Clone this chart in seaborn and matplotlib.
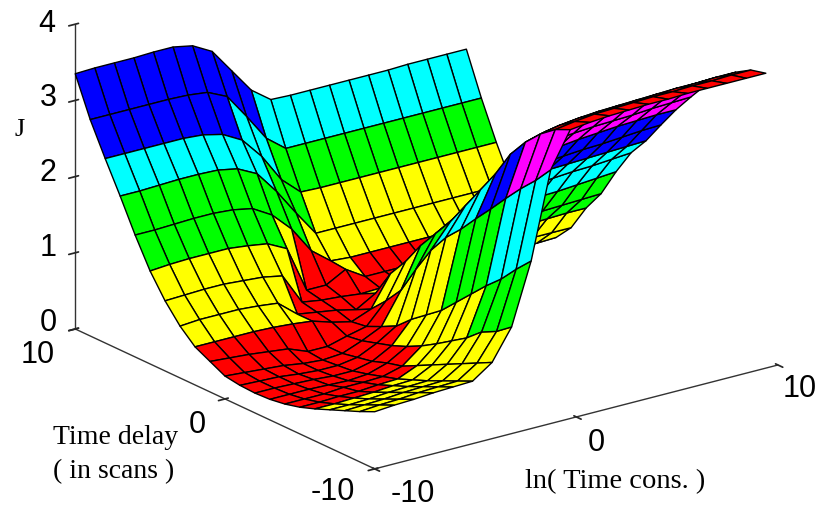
import numpy as np
import matplotlib
matplotlib.use("Agg")
import matplotlib.pyplot as plt
from matplotlib.colors import ListedColormap, BoundaryNorm
import seaborn as sns

ln_time_cons = [-10.0, -9.03, -8.06, -7.09, -6.12, -5.15, -4.18, -3.21, -2.24, -1.27, -0.3,
                0.67, 1.64, 2.61, 3.58, 4.55, 5.52, 6.49, 7.46, 8.43, 9.4]
time_delay = [-10, -9, -8, -7, -6, -5, -4, -3, -2, -1, 0, 1, 2, 3, 4, 5, 6, 7, 8, 9, 10]

j_rows = [
    [.75, .77, .78, .80, .81, .82, 1.00, 1.40, 2.20, 3.33, 3.79, 3.82, 3.84, 3.85, 3.86, 3.86, 3.87, 3.87, 3.87, 3.87, 3.87],
    [.66, .68, .69, .71, .72, .73, .90, 1.25, 2.00, 3.10, 3.70, 3.74, 3.77, 3.78, 3.79, 3.80, 3.80, 3.81, 3.81, 3.82, 3.82],
    [.58, .59, .60, .62, .63, .64, .80, 1.15, 1.78, 2.90, 3.55, 3.60, 3.63, 3.65, 3.66, 3.67, 3.68, 3.69, 3.69, 3.70, 3.70],
    [.50, .50, .51, .53, .54, .55, .70, .98, 1.60, 2.68, 3.35, 3.42, 3.46, 3.48, 3.50, 3.51, 3.52, 3.53, 3.54, 3.55, 3.55],
    [.42, .42, .43, .44, .46, .47, .60, .85, 1.40, 2.45, 3.10, 3.20, 3.24, 3.27, 3.29, 3.30, 3.31, 3.32, 3.33, 3.34, 3.35],
    [.35, .35, .36, .36, .38, .39, .50, .72, 1.20, 2.23, 2.75, 2.90, 2.96, 3.00, 3.02, 3.04, 3.05, 3.06, 3.08, 3.09, 3.10],
    [.30, .30, .30, .32, .32, .33, .40, .60, 1.00, 2.00, 2.45, 2.60, 2.68, 2.72, 2.75, 2.78, 2.80, 2.82, 2.83, 2.84, 2.84],
    [.27, .27, .27, .26, .25, .27, .35, .50, .85, 1.80, 2.15, 2.30, 2.38, 2.42, 2.45, 2.47, 2.49, 2.50, 2.52, 2.54, 2.55],
    [.26, .26, .25, .24, .22, .22, .28, .42, .70, 1.54, 1.85, 2.05, 2.12, 2.16, 2.18, 2.20, 2.21, 2.22, 2.23, 2.24, 2.25],
    [.27, .26, .25, .22, .20, .20, .24, .36, .52, 1.20, 1.60, 1.75, 1.82, 1.86, 1.89, 1.91, 1.93, 1.95, 1.96, 1.98, 2.00],
    [.30, .28, .26, .24, .20, .18, .20, .30, .42, .83, 1.35, 1.45, 1.50, 1.53, 1.55, 1.57, 1.59, 1.60, 1.62, 1.64, 1.66],
    [.40, .38, .36, .33, .30, .20, .20, .27, .33, .60, 1.05, 1.10, 1.16, 1.18, 1.20, 1.22, 1.23, 1.25, 1.26, 1.27, 1.28],
    [.50, .50, .50, .50, .49, .47, .44, .36, .30, .40, .80, .90, .92, .94, .95, .96, .97, .98, .99, 1.00, 1.00],
    [.68, .70, .70, .70, .68, .65, .44, .40, .36, .30, .45, .60, .62, .63, .64, .64, .65, .65, .65, .65, .65],
    [.92, .93, .94, .94, .92, .90, .85, .44, .40, .38, .35, .36, .38, .40, .40, .41, .42, .42, .42, .42, .43],
    [1.22, 1.24, 1.25, 1.25, 1.25, 1.22, 1.18, 1.05, .44, .44, .58, .42, .42, .42, .42, .42, .42, .42, .42, .42, .42],
    [1.60, 1.60, 1.61, 1.62, 1.62, 1.60, 1.55, 1.40, 1.15, .80, .60, .58, .58, .58, .58, .58, .58, .58, .58, .58, .58],
    [2.02, 2.02, 2.03, 2.04, 2.04, 2.03, 1.98, 1.85, 1.55, 1.20, .87, .87, .87, .87, .87, .87, .87, .87, .87, .87, .87],
    [2.42, 2.42, 2.42, 2.42, 2.42, 2.40, 2.34, 2.20, 1.92, 1.55, 1.32, 1.31, 1.31, 1.31, 1.31, 1.31, 1.31, 1.31, 1.31, 1.31, 1.31],
    [2.84, 2.84, 2.84, 2.84, 2.84, 2.83, 2.80, 2.68, 2.35, 2.00, 1.80, 1.80, 1.80, 1.80, 1.80, 1.80, 1.80, 1.80, 1.80, 1.80, 1.80],
    [3.35, 3.36, 3.36, 3.36, 3.37, 3.37, 3.32, 3.18, 2.86, 2.54, 2.35, 2.34, 2.34, 2.34, 2.34, 2.34, 2.34, 2.35, 2.35, 2.35, 2.35],
]

band_edges = [0, .45, 1.14, 1.71, 2.29, 2.86, 3.43, 4.0]
band_colors = ["#ff0000", "#ffff00", "#00ff00", "#00ffff", "#0000ff", "#ff00ff", "#ff0000"]

x_ticks = [-10, 0, 10]
y_ticks = [-10, 0, 10]
z_ticks = [0, 1, 2, 3, 4]

sns.set_theme(style="white")
plt.rcParams['font.family'] = ['Liberation Sans', 'DejaVu Sans']
plt.rcParams['text.color'] = 'black'

X, Y = np.meshgrid(ln_time_cons, time_delay)
Z = np.array(j_rows)
cmap = ListedColormap(sns.color_palette(band_colors))
norm = BoundaryNorm(band_edges, cmap.N)

fig = plt.figure(figsize=(8.18, 5.08), dpi=100)
ax = fig.add_axes([0.0116, 0.011, 1.0, 1.18], projection='3d', proj_type='ortho')
ax.view_init(elev=20.3, azim=-126.6)
ax.set_box_aspect((1, 1, 0.647), zoom=1.265)
ax.patch.set_alpha(0)

surf = ax.plot_surface(X, Y, Z, rstride=1, cstride=1, facecolors=cmap(norm(Z)), shade=False,
                       edgecolor='black', linewidth=1.0, antialiased=True)
surf.set_clip_on(False)

ax.set_xlim(-10, 10, view_margin=0)
ax.set_ylim(-10, 10, view_margin=0)
ax.set_zlim(0, 4, view_margin=0)
ax.set_xticks(x_ticks)
ax.set_yticks(y_ticks)
ax.set_zticks(z_ticks)
ax.set_xticklabels([])
ax.set_yticklabels([])
ax.set_zticklabels([])
ax.grid(False)
for axis in (ax.xaxis, ax.yaxis, ax.zaxis):
    axis.set_pane_color((1, 1, 1, 0))
    axis.line.set_color('#333333')
    axis.line.set_linewidth(1.0)
    axis._axinfo['tick']['color'] = '#333333'


def put_text(px, py, s, **kw):
    # positions are pixels of the 818x508 picture, the labels were pasted on by hand there
    fig.text(px / 818, 1 - py / 508, s, ha='center', va='center', **kw)


for tick, (px, py) in zip(z_ticks, [(48, 323), (48, 248), (48, 173), (48, 98), (47, 24)]):
    put_text(px, py, str(tick), fontsize=22)
for tick, (px, py) in zip(y_ticks, [(333, 492), (197, 425), (38, 355)]):
    put_text(px, py, str(tick), fontsize=22)
for tick, (px, py) in zip(x_ticks, [(413, 494), (596, 443), (800, 389)]):
    put_text(px, py, str(tick), fontsize=22)

serif = ['Liberation Serif', 'DejaVu Serif']
put_text(20, 130, "J", family=serif, fontsize=19)
put_text(116, 437, "Time delay", family=serif, fontsize=20)
put_text(114, 472, "( in scans )", family=serif, fontsize=20)
put_text(615, 482, "ln( Time cons. )", family=serif, fontsize=20.5)

fig.savefig("out.png", dpi=100)
